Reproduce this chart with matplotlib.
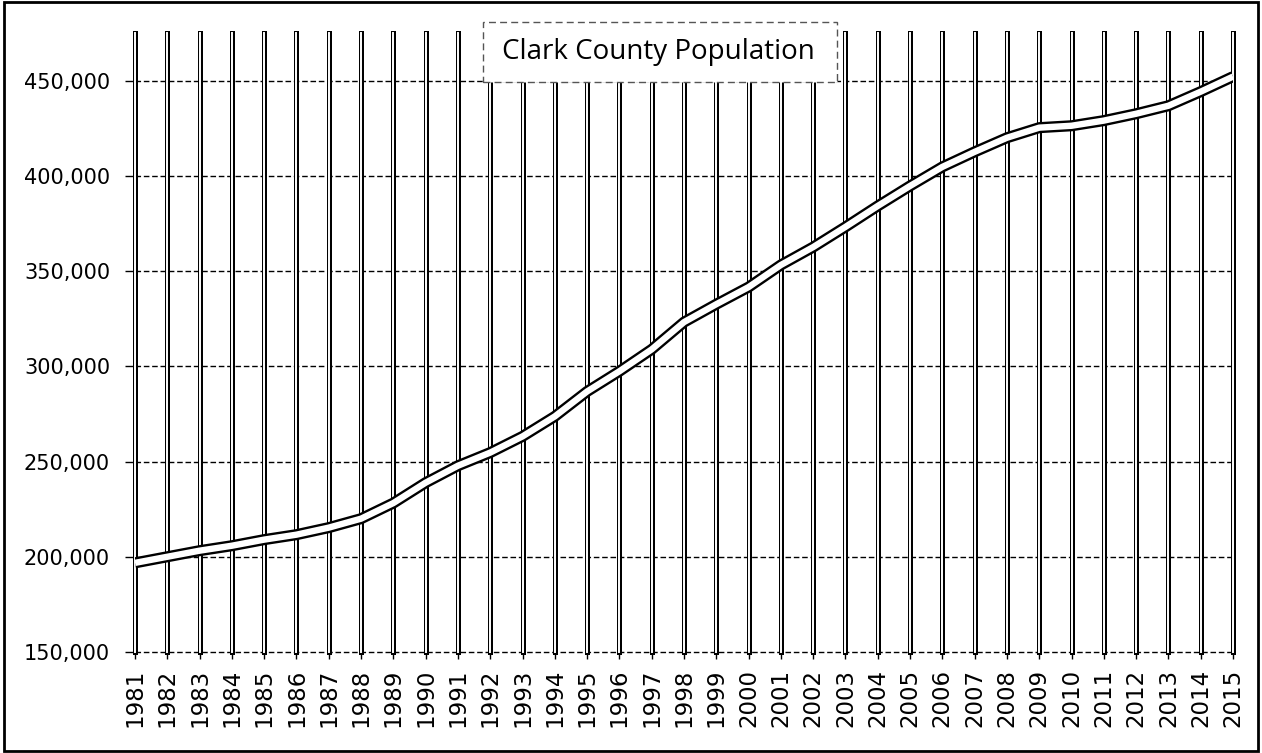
import matplotlib
matplotlib.use("Agg")
import matplotlib.pyplot as plt
from matplotlib.patches import Rectangle
from matplotlib.ticker import FuncFormatter

# values
years = list(range(1981, 2016))
population = [196800, 200000, 203200, 205800, 209000, 211600, 215300, 220000,
              228200, 238900, 247800, 254700, 263200, 273700, 286800, 297400,
              308900, 323200, 332600, 341600, 353200, 362600, 373200, 384200,
              394700, 404700, 412600, 420000, 425300, 426300, 429000, 432600,
              436800, 444200, 452100]
y_ticks = [150000, 200000, 250000, 300000, 350000, 400000, 450000]
title = "Clark County Population"

W, H = 1262, 753
fig = plt.figure(figsize=(W / 100, H / 100), dpi=100)
fig.patch.set_facecolor("white")
ax = fig.add_axes([135 / W, 1 - 652 / H, (1233 - 135) / W, (652 - 33) / H])

ax.set_xlim(years[0], years[-1])
ax.set_ylim(150000, 475000)

# horizontal dashed gridlines (incl. the 150,000 axis line)
for v in y_ticks:
    ax.axhline(v, color="black", lw=1.0, ls=(0, (4, 2)), zorder=1, clip_on=False)

# vertical gridlines drawn as double lines
for yr in years:
    ax.axvline(yr, color="black", lw=3.6, zorder=2, clip_on=False)
    ax.axvline(yr, color="white", lw=1.4, zorder=2.1, clip_on=False)

# the series: white line with black outline
ax.plot(years, population, color="black", lw=8, solid_capstyle="butt",
        solid_joinstyle="round", zorder=4)
ax.plot(years, population, color="white", lw=4.6, solid_capstyle="butt",
        solid_joinstyle="round", zorder=5)

ax.set_xticks(years)
ax.set_xticklabels([str(y) for y in years], rotation=90, fontsize=16.5)
ax.set_yticks(y_ticks)
ax.yaxis.set_major_formatter(FuncFormatter(lambda v, p: f"{int(v):,}"))
ax.tick_params(axis="y", labelsize=15, length=7, width=1, pad=11)
ax.tick_params(axis="x", length=5, width=1, pad=7)
for s in ax.spines.values():
    s.set_visible(False)

# title in a dashed white box
box = Rectangle((483 / W, 1 - 82 / H), 354 / W, 60 / H, transform=fig.transFigure,
                facecolor="white", edgecolor="#555555", lw=1.0, ls=(0, (5, 3)), zorder=5)
fig.add_artist(box)
fig.text(658 / W, 1 - 52 / H, title, ha="center", va="center", fontsize=20,
         family="Open Sans", zorder=6)

# chart border
frame = Rectangle((0.003, 0.003), 0.994, 0.994, transform=fig.transFigure,
                  facecolor="none", edgecolor="black", lw=2, zorder=7)
fig.add_artist(frame)

fig.savefig("out.png", dpi=100)
